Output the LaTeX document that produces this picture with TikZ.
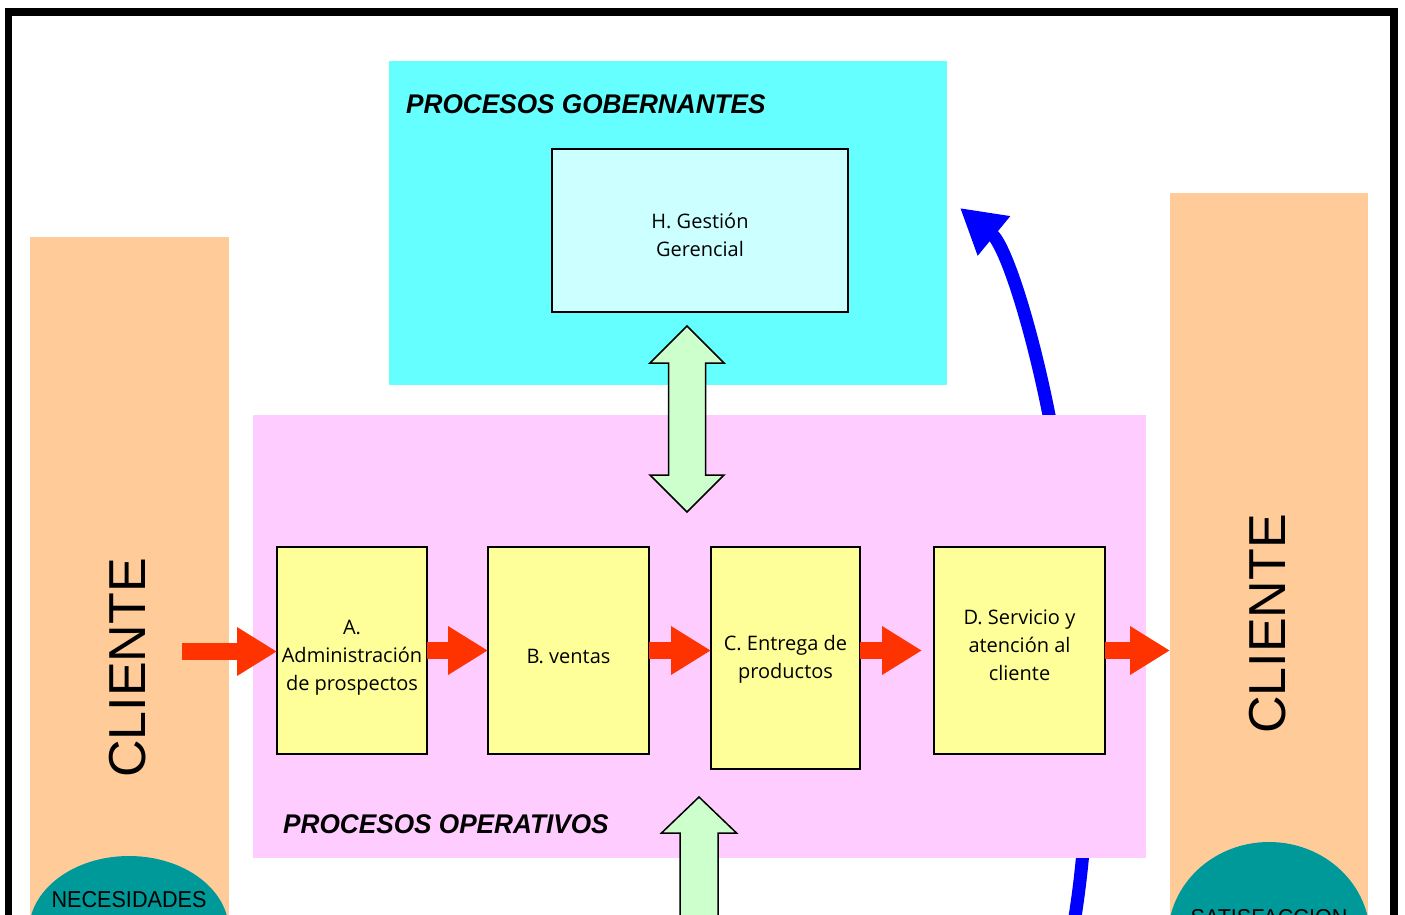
\documentclass[tikz,border=0pt]{standalone}
\usepackage{fontspec}
\setmainfont{Liberation Sans}
\newfontfamily\boxfont{Open Sans}
\usetikzlibrary{arrows.meta,shapes.geometric}
\definecolor{peach}{HTML}{FFCC99}
\definecolor{govcyan}{HTML}{66FFFF}
\definecolor{paleblue}{HTML}{CCFFFF}
\definecolor{oppink}{HTML}{FFCCFF}
\definecolor{procyellow}{HTML}{FFFF99}
\definecolor{flowred}{HTML}{FF3300}
\definecolor{linkgreen}{HTML}{CCFFCC}
\definecolor{tealdome}{HTML}{009999}
\definecolor{loopblue}{HTML}{0000FF}
\begin{document}
\begin{tikzpicture}[x=1pt,y=-1pt,
  panel/.style={draw=none,inner sep=0pt,outer sep=0pt,anchor=north west},
  procbox/.style={draw=black,line width=1.3pt,fill=procyellow,inner sep=0pt,outer sep=0pt},
  boxlabel/.style={inner sep=0pt,align=center,font=\boxfont\fontsize{20}{28}\selectfont},
  flow/.style={draw=flowred,line width=17pt,-{Triangle[length=40pt,width=46pt]}},
  twoway/.style={draw=black,line width=1.5pt,fill=linkgreen,line join=miter},
  dome/.style={ellipse,fill=tealdome,inner sep=0pt},
  heading/.style={anchor=west,inner sep=0pt,xscale=0.97,font=\bfseries\itshape\fontsize{27}{27}\selectfont},
  client/.style={rotate=90,inner sep=0pt,font=\fontsize{52}{52}\selectfont},
  domelabel/.style={inner sep=0pt,xscale=0.94,font=\fontsize{23}{23}\selectfont}
]
\useasboundingbox (0,0) rectangle (1405,915);

% outer frame
\draw[line width=7.5pt] (8.5,12) rectangle (1394,1000);

% client columns
\node[panel,fill=peach,minimum width=199pt,minimum height=700pt] (colL) at (30,237) {};
\node[panel,fill=peach,minimum width=198pt,minimum height=740pt] (colR) at (1170,193) {};
\node[client] (cliL) at (128,668) {CLIENTE};
\node[client] (cliR) at (1268,624) {CLIENTE};

% domes at the foot of each column
\node[dome,minimum width=200pt,minimum height=150pt] (needs) at (129,931) {};
\node[domelabel] (needsT) at (129,900) {NECESIDADES};
\node[dome,minimum width=202pt,minimum height=190pt] (satis) at (1269,937) {};
\node[domelabel,anchor=north] (satisT) at (1269,909) {SATISFACCION};

% governing processes
\node[panel,fill=govcyan,minimum width=558pt,minimum height=324pt] (gov) at (389,61) {};
\node[heading] (govT) at (406,104) {PROCESOS GOBERNANTES};
\node[draw=black,line width=1.3pt,fill=paleblue,minimum width=296pt,minimum height=163pt,
  inner sep=0pt] (H) at (700,230.5) {};
\node[boxlabel] (Htext) at ([yshift=-4pt]H.center) {H. Gestión\\Gerencial};

% feedback loop (passes behind the operating panel)
\coordinate (loopStart) at (1072,935);
\coordinate (loopMid) at (1049,415);
\coordinate (loopEnd) at (960,208);
\draw[loopblue,line width=13pt,-{Triangle[length=44pt,width=48pt]}]
  (loopStart) .. controls (1110,720) and (1068,510) .. (loopMid)
  .. controls (1030,320) and (1005,245) .. (loopEnd);

% operating processes
\node[panel,fill=oppink,minimum width=893pt,minimum height=443pt] (ops) at (253,415) {};
\node[heading] (opsT) at (283,824) {PROCESOS OPERATIVOS};

\node[procbox,minimum width=150pt,minimum height=207pt] (A) at (352,650.5) {};
\node[procbox,minimum width=161pt,minimum height=207pt] (B) at (568.5,650.5) {};
\node[procbox,minimum width=149pt,minimum height=222pt] (C) at (785.5,658) {};
\node[procbox,minimum width=171pt,minimum height=207pt] (D) at (1019.5,650.5) {};
\node[boxlabel] (Atext) at ([yshift=-7pt]A.center) {A.\\Administración\\de prospectos};
\node[boxlabel] (Btext) at ([yshift=-6pt]B.center) {B. ventas};
\node[boxlabel] (Ctext) at ([yshift=-1pt]C.center) {C. Entrega de\\productos};
\node[boxlabel] (Dtext) at ([yshift=5pt]D.center) {D. Servicio y\\atención al\\cliente};

% main flow
\coordinate (inL) at (182,651.5);
\draw[flow] (inL) -- (inL -| A.west);
\draw[flow] (A.east) -- (B.west);
\draw[flow] (B.east) -- (B.east -| C.west);
\draw[flow] (C.east |- D.west) -- ([xshift=-12pt]D.west);
\draw[flow] (D.east) -- (D.east -| colR.west);

% link between governing and operating processes
\draw[twoway] (687,326) -- (724,363) -- (705.5,363) -- (705.5,475) -- (724,475) -- (687,512)
  -- (650,475) -- (668.5,475) -- (668.5,363) -- (650,363) -- cycle;

% input arrow from below
\draw[twoway] (699,797) -- (736.5,833) -- (718,833) -- (718,940) -- (680,940) -- (680,833)
  -- (661.5,833) -- cycle;
\end{tikzpicture}
\end{document}
